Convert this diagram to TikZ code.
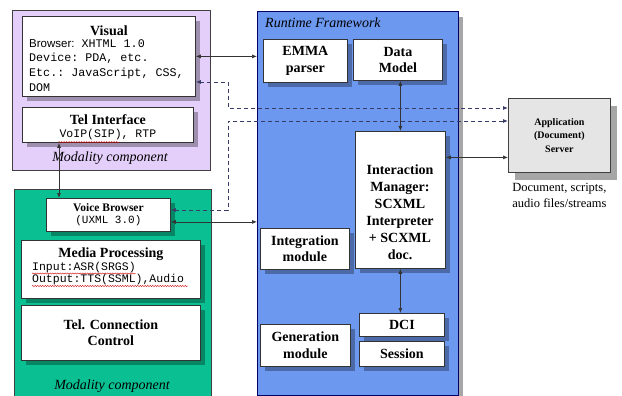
\documentclass[tikz,border=0pt]{standalone}
\usepackage{fontspec}
\setmainfont{Liberation Serif}
\setsansfont{Liberation Sans}
\setmonofont{Liberation Mono}
\usetikzlibrary{arrows.meta,positioning,shadows,decorations.pathmorphing}
\definecolor{modpurple}{RGB}{228,206,250}
\definecolor{modgreen}{RGB}{10,192,146}
\definecolor{rtblue}{RGB}{108,152,240}
\definecolor{dashcol}{RGB}{58,60,104}
\begin{document}
\begin{tikzpicture}[x=1pt,y=-1pt,>={Latex[length=5pt,width=4pt]},
  frame/.style={draw=black!75,line width=0.8pt,inner sep=0pt,anchor=north west},
  shade/.style={drop shadow={shadow xshift=5pt,shadow yshift=-5pt,opacity=0.3,fill=black}},
  box/.style={draw=black!80,line width=0.8pt,fill=white,inner sep=0pt,anchor=north west,
    align=center,font=\bfseries\fontsize{14}{16.5}\selectfont,shade},
  monotext/.style={font=\ttfamily\fontsize{11.5}{12}\selectfont,align=left,inner sep=0pt},
  caption/.style={font=\itshape\fontsize{14}{16}\selectfont,inner sep=0pt},
  link/.style={<->,line width=0.7pt,black!80},
  dashlink/.style={<->,line width=0.8pt,dashcol,dash pattern=on 4pt off 3pt},
  squiggle/.style={red!80!black,line width=0.4pt,decorate,
    decoration={snake,amplitude=0.6pt,segment length=2.5pt}}]
\useasboundingbox (0,0) rectangle (622,396);
% corners of frames and boxes
\coordinate (MT) at (12,10);
\coordinate (MB) at (14,189);
\coordinate (RT) at (257,11);
\coordinate (AS) at (508,98);
\coordinate (VI) at (22,16);
\coordinate (TI) at (22,107);
\coordinate (VB) at (46,198);
\coordinate (MP) at (21,240);
\coordinate (TC) at (21,305);
\coordinate (EP) at (263,39);
\coordinate (DM) at (353,39);
\coordinate (IM) at (355,131);
\coordinate (IN) at (260,228);
\coordinate (GE) at (260,324);
\coordinate (DC) at (359,313);
\coordinate (SE) at (359,341);
% bends of the dashed lines
\coordinate (J1) at (228,82);
\coordinate (J2) at (228,108);
\coordinate (J3) at (228,121);
\coordinate (J4) at (228,210);
% frames
\node[frame,fill=modpurple,minimum width=198pt,minimum height=160pt] (modtop) at (MT) {};
\node[frame,fill=modgreen,minimum width=197pt,minimum height=212pt] (modbot) at (MB) {};
\node[frame,fill=rtblue,draw=black!60!blue,minimum width=201pt,minimum height=384pt,
  drop shadow={shadow xshift=5pt,shadow yshift=-6pt,opacity=0.35,fill=black}] (runtime) at (RT) {};
\node[frame,fill=black!10,minimum width=102pt,minimum height=74pt,
  drop shadow={shadow xshift=7pt,shadow yshift=-8pt,opacity=0.35,fill=black},
  align=center,font=\bfseries\fontsize{10}{13.5}\selectfont] (appsrv) at (AS)
  {Application\\(Document)\\Server};
\node[caption,anchor=west] (rtlabel) at (265,23) {Runtime Framework};
\node[caption] (modtoplabel) at (110,158) {Modality component};
\node[caption] (modbotlabel) at (112,386) {Modality component};
\node[align=center,font=\fontsize{12.5}{16}\selectfont,below=7pt of appsrv] (appcap)
  {Document, scripts,\\audio files/streams};
% modality boxes
\node[box,minimum width=173pt,minimum height=80pt] (visual) at (VI) {};
\node[font=\bfseries\fontsize{14}{16}\selectfont,below=6pt of visual.north] (visualtitle) {Visual};
\node[monotext,anchor=north west,font=\ttfamily\fontsize{11.7}{14.8}\selectfont] (visualtext) at (29,39)
  {{\sffamily\fontsize{11.5}{14.8}\selectfont Browser:} XHTML 1.0\\Device: PDA, etc.\\Etc.: JavaScript, CSS,\\DOM};
\node[box,minimum width=171pt,minimum height=35pt] (telif) at (TI) {};
\node[font=\bfseries\fontsize{14}{16}\selectfont,below=4pt of telif.north] (teliftitle) {Tel Interface};
\node[monotext,below=1pt of teliftitle] (teliftext) {VoIP(SIP), RTP};
\node[box,minimum width=124pt,minimum height=33pt,font=\bfseries\fontsize{11.5}{12.5}\selectfont] (voice) at (VB)
  {Voice Browser\\\mdseries\ttfamily\fontsize{11}{12}\selectfont(UXML 3.0)};
\node[box,minimum width=179pt,minimum height=58pt] (media) at (MP) {};
\node[font=\bfseries\fontsize{14}{16}\selectfont,below=4pt of media.north] (mediatitle) {Media Processing};
\node[monotext,anchor=north west] (mediatext) at (32,262) {Input:ASR(SRGS)\\Output:TTS(SSML),Audio};
\node[box,minimum width=179pt,minimum height=55pt] (telconn) at (TC) {Tel. Connection\\Control};
% runtime boxes
\node[box,minimum width=84pt,minimum height=43pt] (emma) at (EP) {EMMA\\parser};
\node[box,minimum width=89pt,minimum height=41pt] (datamodel) at (DM) {Data\\Model};
\node[box,minimum width=90pt,minimum height=137pt] (im) at (IM) {};
\node[align=center,font=\bfseries\fontsize{14}{17}\selectfont] (imtext) at (400,212)
  {Interaction\\Manager:\\SCXML\\Interpreter\\+ SCXML\\doc.};
\node[box,minimum width=89pt,minimum height=41pt] (integ) at (IN) {Integration\\module};
\node[box,minimum width=90pt,minimum height=42pt] (gen) at (GE) {Generation\\module};
\node[box,minimum width=85pt,minimum height=23pt] (dci) at (DC) {DCI};
\node[box,minimum width=85pt,minimum height=25pt] (session) at (SE) {Session};
% spelling marks
\draw[squiggle] ([xshift=-1pt,yshift=-2pt]teliftext.south west) -- ([xshift=-37pt,yshift=-2pt]teliftext.south east);
\draw[squiggle] (32,273.5) -- (136,273.5);
\draw[squiggle] (32,286) -- (188,286);
% connectors
\draw[link] (visual.east) -- (visual.east -| runtime.west);
\draw[link] ([xshift=37pt]telif.south west) -- ([xshift=37pt]telif.south west |- voice.north);
\draw[link] ([yshift=-7pt]voice.east) -- ([yshift=-7pt]voice.east -| runtime.west);
\draw[link] (im.north |- datamodel.south) -- (im.north);
\draw[link] (im.south) -- (im.south |- dci.north);
\draw[link] ([yshift=-22pt]appsrv.west) -- ([yshift=-22pt]appsrv.west -| im.east);
\draw[dashlink] (visual.east |- J1) -- (J1) -- (J2) -- (J2 -| appsrv.west);
\draw[dashlink] (J3 -| appsrv.west) -- (J3) -- (J4) -- (J4 -| voice.east);
\end{tikzpicture}
\end{document}
